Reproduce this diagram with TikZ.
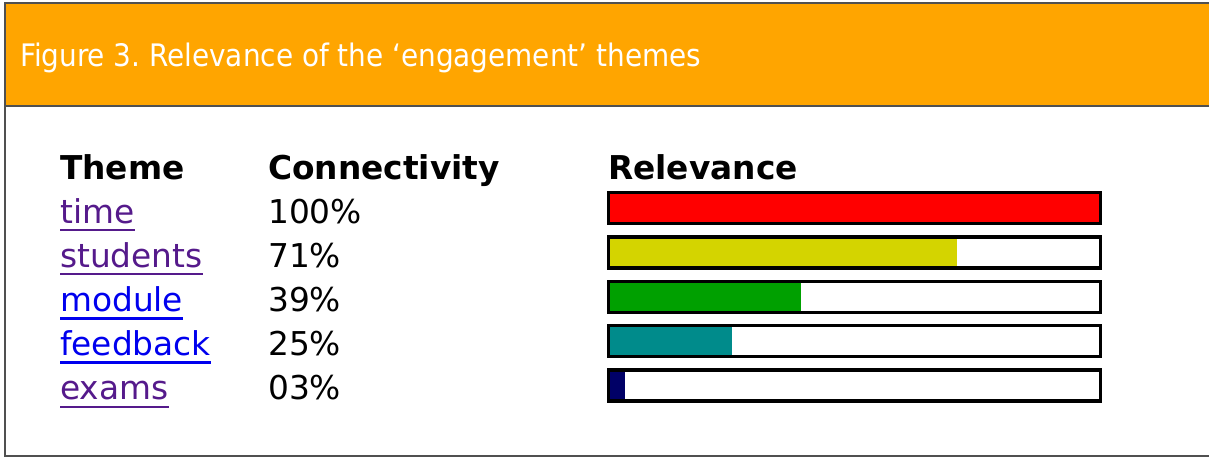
\documentclass[tikz,border=0pt]{standalone}
\usepackage{fontspec}
\setmainfont{DejaVu Sans}
\newfontfamily\condfont{DejaVu Sans Condensed}
\definecolor{hdr}{HTML}{FFA500}
\definecolor{bordergray}{HTML}{505050}
\definecolor{visited}{HTML}{551A8B}
\definecolor{linkblue}{HTML}{0000EE}
\definecolor{cred}{HTML}{FF0000}
\definecolor{cyellow}{HTML}{D4D400}
\definecolor{cgreen}{HTML}{00A000}
\definecolor{cteal}{HTML}{008B8B}
\definecolor{cnavy}{HTML}{000066}
\tikzset{
  titletext/.style={anchor=base west, inner sep=0pt, text=white, font=\condfont\fontsize{31}{36}\selectfont\frenchspacing},
  headtext/.style={anchor=base west, inner sep=0pt, font=\fontsize{32.8}{38}\selectfont\bfseries},
  celltext/.style={anchor=base west, inner sep=0pt, font=\fontsize{32.8}{38}\selectfont},
  barframe/.style={draw=black, line width=3.3pt},
}
\begin{document}
\begin{tikzpicture}[x=1pt,y=-1pt]
\useasboundingbox (0,0) rectangle (1209,457);
\fill[white] (0,0) rectangle (1209,457);
\fill[hdr] (5,3) rectangle (1209,106);
\draw[bordergray, line width=2pt] (1209,3) -- (5,3) -- (5,456) -- (1209,456);
\draw[bordergray, line width=2pt] (5,106) -- (1209,106);
\node[titletext] (title) at (20,67) {Figure 3. Relevance of the ‘engagement’ themes};
\node[headtext] (hTheme) at (60,180) {Theme};
\node[headtext] (hConn) at (268,180) {Connectivity};
\node[headtext] (hRel) at (608,180) {Relevance};
\foreach \i/\word/\col/\pct/\fillc in {0/time/visited/100/cred, 1/students/visited/71/cyellow, 2/module/linkblue/39/cgreen, 3/feedback/linkblue/25/cteal, 4/exams/visited/03/cnavy}{
  \pgfmathsetmacro{\yb}{223+44.2*\i}
  \pgfmathsetmacro{\yt}{191+44.4*\i}
  \node[celltext, text=\col] (w\i) at (60,\yb) {\word};
  \draw[\col, line width=2.5pt] ([yshift=-7pt]w\i.base west) -- ([yshift=-7pt]w\i.base east);
  \node[celltext] (p\i) at (268,\yb) {\pct\%};
  \pgfmathsetmacro{\xe}{610+4.89*\pct}
  \fill[\fillc] (610,\yt+3) rectangle (\xe,\yt+31);
  \draw[barframe] (608.5,\yt+1.5) rectangle (1100.5,\yt+32.5);
}
\end{tikzpicture}
\end{document}
